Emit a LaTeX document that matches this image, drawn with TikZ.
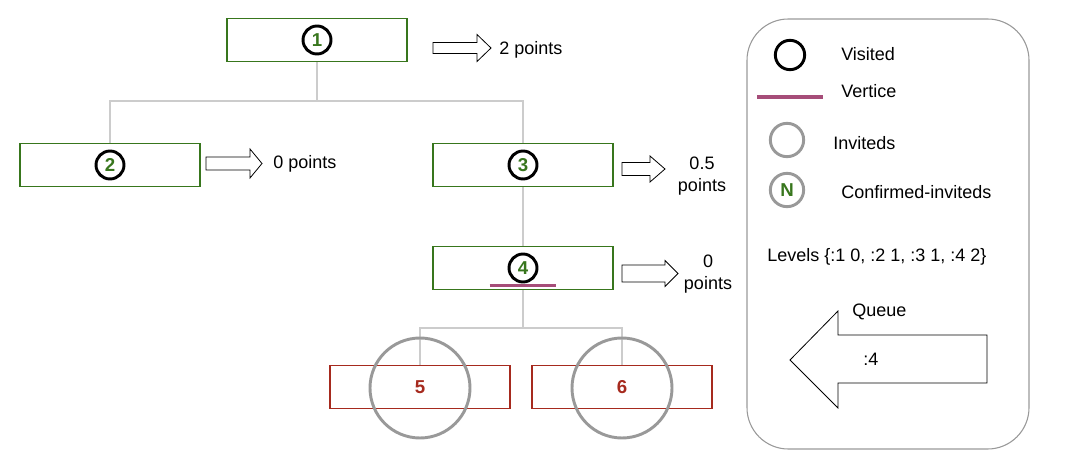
\documentclass[tikz,border=0pt]{standalone}
\usepackage{fontspec}
\setmainfont{Liberation Sans}
\usetikzlibrary{positioning}
\definecolor{boxgreen}{HTML}{38761D}
\definecolor{boxred}{HTML}{A62A1E}
\definecolor{vertpink}{HTML}{A64D79}
\definecolor{edgegray}{HTML}{CCCCCC}
\definecolor{invgray}{HTML}{999999}
\tikzset{
  vbox/.style={draw=boxgreen, line width=1.1pt, minimum width=135pt, minimum height=32pt, inner sep=0pt},
  ibox/.style={draw=boxred, line width=1.1pt, minimum width=135pt, minimum height=32pt, inner sep=0pt, text=boxred, font=\fontsize{14}{16.5}\selectfont\bfseries},
  visited/.style={circle, draw=black, line width=2.2pt, minimum size=21pt, inner sep=0pt, text=boxgreen, font=\fontsize{14}{16.5}\selectfont\bfseries},
  invited/.style={circle, draw=invgray, line width=2.2pt, inner sep=0pt},
  edge/.style={draw=edgegray, line width=1.3pt},
  vertice/.style={draw=vertpink, line width=2.3pt},
  lbl/.style={anchor=west, inner sep=0pt}
}
\begin{document}
\begin{tikzpicture}[x=0.75pt, y=-0.75pt, every node/.style={font=\fontsize{13.5}{16.5}\selectfont}]
    \useasboundingbox (0,0) rectangle (1068,474);
    % tree of boxes
    \node[vbox] (b1) at (317,40) {};
    \node[vbox] (b2) at (110,165) {};
    \node[vbox] (b3) at (523,165) {};
    \node[vbox] (b4) at (523,268) {};
    \node[ibox] (b5) at (420,387) {5};
    \node[ibox] (b6) at (622,387) {6};
    \draw[edge] (b1.south) -- ++(0,39) -| (b2.north);
    \draw[edge] (b1.south) -- ++(0,39) -| (b3.north);
    \draw[edge] (b3.south) -- (b4.north);
    \draw[edge] (b4.south) -- ++(0,38) -| (b5.north);
    \draw[edge] (b4.south) -- ++(0,38) -| (b6.north);
    \foreach \i in {1,...,4}
        \node[visited] (n\i) at (b\i) {\i};
    \draw[vertice] ([xshift=-25pt,yshift=-1.5pt]n4.south) -- ([xshift=25pt,yshift=-1.5pt]n4.south);
    \node[invited, minimum size=75pt] (c5) at (420,388) {};
    \node[invited, minimum size=75pt] (c6) at (622,388) {};
    % points arrows
    \foreach \x/\y/\len/\sh/\hh/\hl in {433/48/58/5.5/13.5/14, 206/163.5/56/6.5/14.5/12, 622/169/43/6.5/13/15, 622/273.5/56/8.5/13/13}
        \draw[line width=0.6pt] (\x,{\y-\sh}) -- ({\x+\len-\hl},{\y-\sh}) -- ({\x+\len-\hl},{\y-\hh})
            -- ({\x+\len},\y) -- ({\x+\len-\hl},{\y+\hh}) -- ({\x+\len-\hl},{\y+\sh}) -- (\x,{\y+\sh}) -- cycle;
    \node[lbl] (p1) at (499,50) {2 points};
    \node[lbl] (p2) at (273,164) {0 points};
    \node[align=center] (p3) at (702,176) {0.5\\points};
    \node[align=center] (p4) at (708,274) {0\\points};
    % legend
    \draw[invgray, line width=0.8pt, rounded corners=31pt] (747,19) rectangle (1029,449);
    \node[visited, minimum size=22pt] (lv) at (790,55) {};
    \node[lbl] (tv) at (841,54) {Visited};
    \draw[vertice] (757,97) -- (823,97);
    \node[lbl] (tw) at (841,91) {Vertice};
    \node[invited, minimum size=25pt] (li) at (787,140) {};
    \node[lbl] (ti) at (833,143) {Inviteds};
    \node[invited, minimum size=25pt, text=boxgreen, font=\fontsize{14}{16.5}\selectfont\bfseries] (lc) at (787,190) {N};
    \node[lbl] (tc) at (841,192) {Confirmed-inviteds};
    \node[lbl] (tl) at (767,257) {Levels \{:1 0, :2 1, :3 1, :4 2\}};
    \draw[line width=0.6pt] (790,360) -- (838,311) -- (838,335) -- (987,335) -- (987,383) -- (838,383) -- (838,408) -- cycle;
    \node[lbl] (tq) at (852,312) {Queue};
    \node[lbl] (tn) at (863,359) {:4};
\end{tikzpicture}
\end{document}
